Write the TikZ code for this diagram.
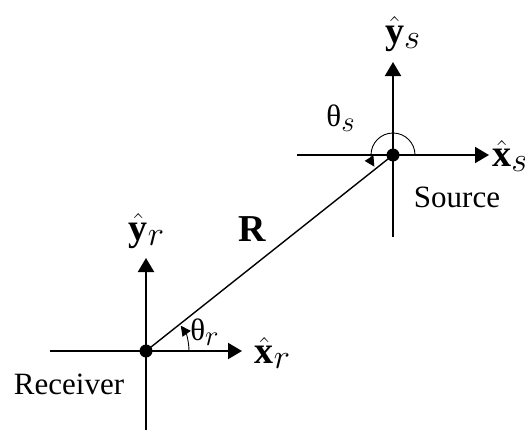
\documentclass[tikz,border=0pt]{standalone}
\usepackage{amsmath}
\usepackage{fontspec}
\setmainfont{Liberation Serif}
\usetikzlibrary{arrows.meta}
\DeclareMathSizes{15.5}{15.5}{14}{9}
\DeclareMathSizes{19}{19}{16.5}{11}

\begin{document}
\begin{tikzpicture}[
  x=0.5pt, y=0.5pt,
  font=\fontsize{15.5}{18}\selectfont,
  axis/.style={line width=1pt, -{Triangle[length=7pt,width=8pt]}},
  vec/.style ={line width=0.7pt},
  ang/.style ={line width=0.45pt, -{Triangle[length=5pt,width=5pt]}},
  dot/.style ={circle, fill=black, inner sep=0pt, minimum size=6.5pt},
  lbl/.style ={inner sep=1pt},
  unit/.style={lbl, font=\fontsize{19}{22}\selectfont}
]
\useasboundingbox (0,0) rectangle (525,430);

% origins
\node[dot] (rx) at (146,79)  {};
\node[dot] (sx) at (393,275) {};

% receiver frame
\coordinate (rxl) at (50,79);
\coordinate (rxr) at (242,79);
\coordinate (rxb) at (146,0);
\coordinate (rxt) at (146,172);
\draw[axis] (rxl) -- (rxr);
\draw[axis] (rxb) -- (rxt);

% source frame
\coordinate (sxl) at (297,275);
\coordinate (sxr) at (489,275);
\coordinate (sxb) at (393,193);
\coordinate (sxt) at (393,368);
\draw[axis] (sxl) -- (sxr);
\draw[axis] (sxb) -- (sxt);

% separation vector
\draw[vec] (rx.center) -- (sx.center);

% angles
\draw[ang] ([xshift=43*0.5pt]rx.center) arc[start angle=0, end angle=36, radius=43];
\draw[ang] ([xshift=22*0.5pt]sx.center) arc[start angle=0, end angle=212, radius=22];

% labels
\node[unit] (lys) at (403,396) {$\hat{\mathbf{y}}_s$};
\node[unit, anchor=west] (lxs) at (490,274) {$\hat{\mathbf{x}}_s$};
\node[lbl] (lts) at (341,312) {θ$_s$};
\node[lbl] (lsrc) at (457,233) {Source};
\node[unit] (lR) at (252,201) {$\mathbf{R}$};
\node[unit] (lyr) at (147,199) {$\hat{\mathbf{y}}_r$};
\node[lbl] (ltr) at (205,98) {θ$_r$};
\node[unit] (lxr) at (273,77) {$\hat{\mathbf{x}}_r$};
\node[lbl] (lrcv) at (69,46) {Receiver};
\end{tikzpicture}
\end{document}
